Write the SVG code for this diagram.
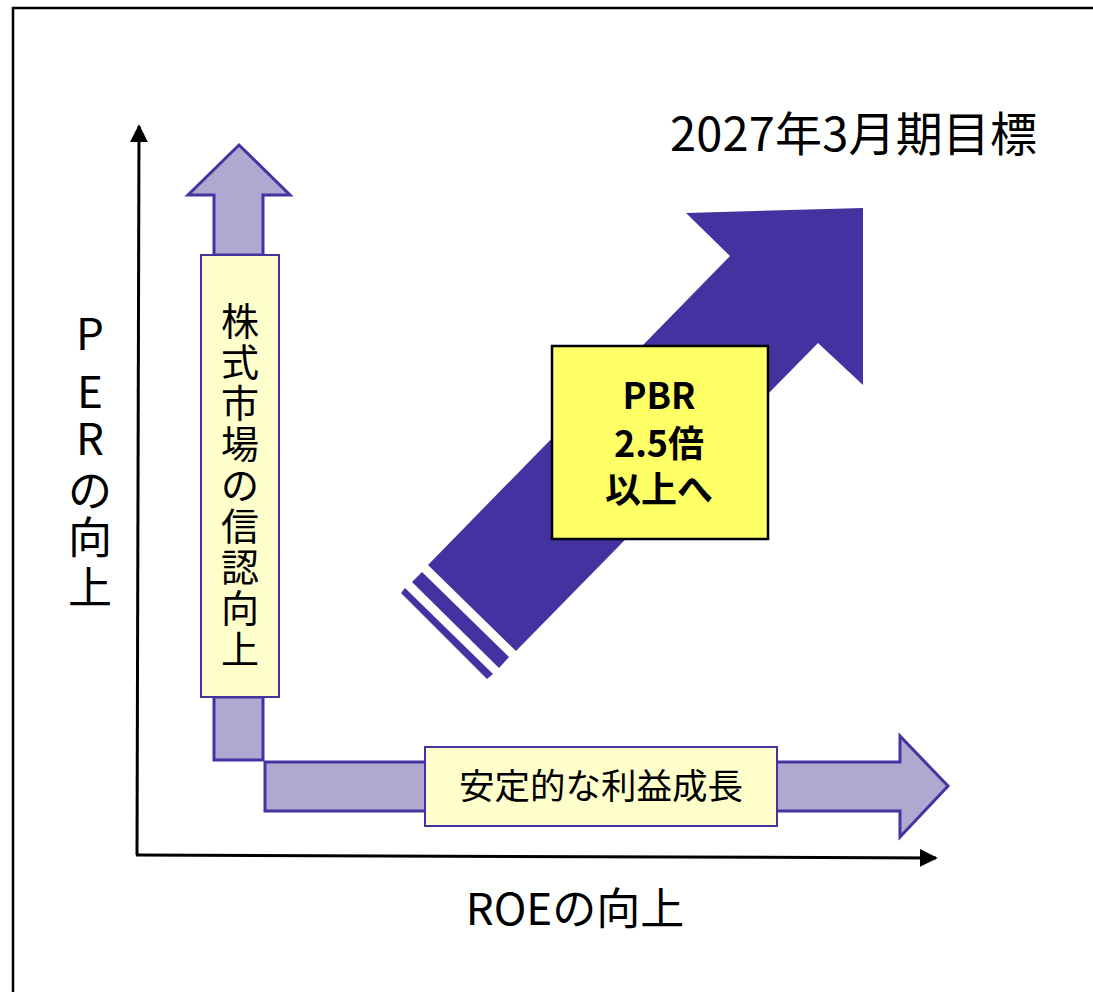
<svg xmlns="http://www.w3.org/2000/svg" width="1093" height="992" viewBox="0 0 1093 992">
<style>
text{font-family:"Noto Sans CJK JP","Noto Sans",sans-serif;fill:#000}
.lp{fill:#B0A8D0;stroke:#4433A0;stroke-width:3;stroke-linejoin:miter}
.ly{fill:#FFFFCC;stroke:#4433A0;stroke-width:2}
.dp{fill:#43329F}
.ax{stroke:#000;stroke-width:3;fill:none}
.v{font-size:38px;text-anchor:middle}
.per{font-size:44px;text-anchor:middle}
.pb{font-size:36px;font-weight:bold;text-anchor:middle}
</style>
<defs>
<marker id="ah" viewBox="0 0 10 10" refX="9" refY="5" markerWidth="6" markerHeight="6" markerUnits="strokeWidth" orient="auto">
<path d="M0,0 L10,5 L0,10 Z" fill="#000"/>
</marker>
</defs>
<rect width="1093" height="992" fill="#fff"/>
<path d="M13,1000 V8 H1100" fill="none" stroke="#000" stroke-width="2.5"/>
<g id="connectors">
<line class="ax" x1="137" y1="855" x2="139" y2="126" marker-end="url(#ah)"/>
<line class="ax" x1="136" y1="855" x2="936" y2="858" marker-end="url(#ah)"/>
</g>
<g id="up-arrow">
<path class="lp" d="M214,255 V195 H188 L239,145 L290,195 H263 V255 Z"/>
<rect class="lp" x="214" y="697" width="49" height="63"/>
</g>
<g id="node-trust">
<rect class="ly" x="201" y="255" width="78" height="442"/>
<text class="v" x="240" y="335">株</text>
<text class="v" x="240" y="376">式</text>
<text class="v" x="240" y="417">市</text>
<text class="v" x="240" y="458">場</text>
<text class="v" x="240" y="499">の</text>
<text class="v" x="240" y="540">信</text>
<text class="v" x="240" y="581">認</text>
<text class="v" x="240" y="622">向</text>
<text class="v" x="240" y="663">上</text>
</g>
<g id="right-arrow">
<rect class="lp" x="265" y="762" width="162" height="49"/>
<path class="lp" d="M775,762 H900 V736 L948,786 L900,837 V811 H775 Z"/>
</g>
<g id="node-growth">
<rect class="ly" x="425" y="747" width="352" height="79"/>
<text x="601" y="799" font-size="35.5" text-anchor="middle">安定的な利益成長</text>
</g>
<g id="big-arrow">
<polygon class="dp" points="428,565 730,256 686,213 863,208 863,385 818,343 516,651"/>
<polygon class="dp" points="422,572 412,582 499,668 509,657"/>
<polygon class="dp" points="405,588 401,593 487,679 493,674"/>
</g>
<g id="node-pbr">
<rect x="552" y="346" width="216" height="193" fill="#FFFF66" stroke="#000" stroke-width="2.5"/>
<text class="pb" x="659" y="409">PBR</text>
<text class="pb" x="659" y="457">2.5倍</text>
<text class="pb" x="659" y="503">以上へ</text>
</g>
<g id="title">
<text x="670" y="151" font-size="47" textLength="367" lengthAdjust="spacing">2027年3月期目標</text>
</g>
<g id="label-per">
<text class="per" x="90" y="350">P</text>
<text class="per" x="90" y="408">E</text>
<text class="per" x="90" y="455">R</text>
<text class="per" x="90" y="507">の</text>
<text class="per" x="90" y="554">向</text>
<text class="per" x="90" y="604">上</text>
</g>
<g id="label-roe">
<text x="575" y="925" font-size="44" text-anchor="middle">ROEの向上</text>
</g>
</svg>
